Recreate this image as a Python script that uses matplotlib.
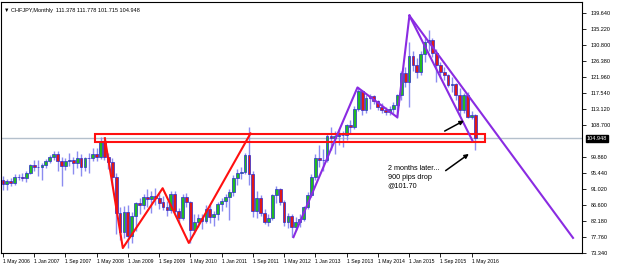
import matplotlib
matplotlib.use("Agg")
import matplotlib.pyplot as plt
import matplotlib.transforms as mtransforms
from matplotlib.patches import Rectangle
import numpy as np

plt.rcParams['font.family'] = ['Liberation Sans', 'DejaVu Sans']

# CHFJPY monthly candles, May 2006 .. Jun 2016 (month index 0 = May 2006)
opens = [93.5, 92.3, 93.2, 92.6, 94.2, 94.4, 93.9, 95.4,
         97.6, 97.0, 97.1, 97.5, 98.8, 99.9, 100.5, 98.6, 97.4, 98.6, 98.9, 98.1,
         99.6, 97.0, 99.4, 99.6, 100.7, 99.8, 104.1, 99.9, 98.4, 94.2, 84.3, 79.2,
         84.7, 78.0, 83.6, 87.0, 86.6, 88.7, 88.3, 89.0, 88.6, 87.4, 86.0, 85.2,
         89.6, 85.0, 83.0, 88.7, 87.3, 79.8, 82.0, 83.0, 82.2, 85.6, 83.3, 84.2,
         86.8, 87.6, 88.9, 90.2, 94.0, 95.3, 95.7, 100.3, 95.0, 84.8, 88.6, 84.3,
         81.9, 83.0, 89.2, 91.0, 87.3, 81.9, 83.5, 80.4, 82.0, 82.8, 86.0, 89.4,
         94.4, 99.6, 99.0, 98.9, 105.5, 105.0, 105.5, 106.0, 105.8, 108.6, 108.2, 113.0,
         118.0, 112.8, 116.0, 116.5, 115.2, 113.5, 112.7, 112.2, 113.0, 114.2, 116.8, 123.0,
         120.4, 127.8, 125.1, 123.3, 128.2, 131.4, 132.0, 128.4, 125.2, 123.2, 122.4, 119.6,
         119.9, 116.9, 112.8, 116.8, 110.9, 111.378]
highs = [94.5, 93.8, 94.1, 95.0, 95.2, 95.3, 96.0, 98.0,
         98.9, 99.0, 98.2, 99.2, 100.4, 101.4, 101.5, 99.7, 99.6, 101.0, 99.9, 101.5,
         100.5, 99.8, 101.0, 102.2, 102.4, 105.2, 104.8, 101.0, 99.4, 95.4, 86.0, 86.2,
         86.5, 84.6, 87.5, 88.5, 89.5, 91.0, 90.5, 91.3, 90.2, 89.0, 87.8, 90.3,
         90.4, 85.8, 89.6, 89.8, 87.8, 84.0, 84.0, 84.2, 86.5, 86.5, 84.8, 87.4,
         88.5, 89.5, 91.0, 94.8, 96.5, 97.0, 101.0, 108.0, 96.0, 90.5, 89.2, 85.4,
         84.0, 89.6, 91.8, 91.3, 88.0, 84.5, 84.0, 83.2, 84.0, 86.4, 90.2, 95.0,
         100.5, 103.0, 102.0, 106.5, 108.0, 107.0, 107.5, 107.0, 109.0, 110.0, 113.8, 119.0,
         118.2, 116.8, 117.2, 117.0, 115.6, 114.7, 113.5, 114.0, 115.0, 117.3, 123.5, 124.5,
         131.4, 129.0, 127.0, 129.0, 132.5, 134.7, 132.5, 129.5, 126.0, 124.5, 122.8, 122.0,
         120.3, 118.8, 117.5, 117.7, 112.5, 111.778]
lows = [90.6, 90.8, 91.9, 92.2, 93.4, 93.2, 92.9, 95.0,
        96.0, 94.6, 93.6, 96.8, 98.2, 99.0, 96.0, 91.9, 96.1, 97.3, 95.2, 96.9,
        94.5, 96.0, 95.5, 98.6, 98.7, 99.3, 99.0, 96.5, 92.0, 78.5, 77.0, 77.5,
        74.8, 76.0, 79.5, 84.0, 85.5, 86.0, 84.5, 86.5, 85.5, 85.2, 83.5, 84.5,
        84.5, 81.5, 82.3, 86.0, 76.1, 78.5, 80.5, 80.0, 81.5, 81.5, 80.8, 82.5,
        84.8, 86.0, 82.5, 89.0, 92.0, 93.8, 95.0, 92.0, 83.2, 83.0, 83.5, 81.2,
        80.8, 82.3, 87.0, 86.5, 80.8, 80.3, 77.8, 79.6, 80.6, 82.2, 85.5, 88.8,
        93.5, 97.0, 96.0, 98.5, 101.8, 100.5, 103.0, 102.5, 104.5, 106.5, 107.5, 112.5,
        111.5, 112.0, 113.0, 114.5, 112.8, 112.0, 111.5, 111.5, 112.0, 110.7, 115.5, 119.0,
        113.5, 123.5, 121.5, 122.5, 126.0, 129.0, 127.5, 120.5, 121.5, 121.0, 119.2, 117.6,
        115.6, 111.0, 112.0, 110.5, 110.3, 101.715]
closes = [92.3, 93.2, 92.6, 94.2, 94.4, 93.9, 95.4, 97.6,
          97.0, 97.1, 97.5, 98.8, 99.9, 100.5, 98.6, 97.4, 98.6, 98.9, 98.1, 99.6,
          97.0, 99.4, 99.6, 100.7, 99.8, 104.1, 99.9, 98.4, 94.2, 84.3, 79.2, 84.7,
          78.0, 83.6, 87.0, 86.6, 88.7, 88.3, 89.0, 88.6, 87.2, 86.0, 85.2, 89.6,
          85.0, 83.0, 88.7, 87.3, 79.8, 82.0, 83.0, 82.2, 85.6, 83.3, 84.2, 86.8,
          87.6, 88.9, 90.2, 94.0, 95.3, 95.7, 100.3, 95.0, 84.8, 88.6, 84.3, 81.9,
          83.0, 89.2, 91.0, 87.3, 81.9, 83.5, 80.4, 82.0, 82.8, 86.0, 89.4, 94.4,
          99.6, 99.0, 98.9, 105.5, 105.0, 105.5, 106.0, 105.8, 108.6, 108.2, 113.0, 118.0,
          112.8, 116.0, 116.5, 115.2, 113.5, 112.7, 112.2, 113.0, 114.2, 116.8, 123.0, 120.4,
          127.8, 125.1, 123.3, 128.2, 131.4, 132.0, 128.4, 125.2, 123.2, 122.4, 119.6, 119.9,
          116.9, 112.8, 116.8, 110.9, 111.378, 104.948]

date_ticks = [0, 8, 16, 24, 32, 40, 48, 56, 64, 72, 80, 88, 96, 104, 112, 120]
date_labels = ['1 May 2006', '1 Jan 2007', '1 Sep 2007', '1 May 2008', '1 Jan 2009',
               '1 Sep 2009', '1 May 2010', '1 Jan 2011', '1 Sep 2011', '1 May 2012',
               '1 Jan 2013', '1 Sep 2013', '1 May 2014', '1 Jan 2015', '1 Sep 2015',
               '1 May 2016']
price_ticks = [139.64, 135.22, 130.80, 126.38, 121.96, 117.54, 113.12, 108.70,
               99.86, 95.44, 91.02, 86.60, 82.18, 77.76, 73.34]
last_price = 104.948

# hand drawn analysis objects (month index, price)
zone_x = [23.5, 123.5]
zone_y = [103.9, 106.1]
zigzag_x = [26.1, 30.7, 40.9, 47.6, 63.4]
zigzag_y = [105.0, 74.7, 91.2, 76.1, 106.3]
rise_x = [74.4, 90.8, 101.0, 104.1]
rise_y = [77.7, 119.0, 110.75, 138.8]
chan1_x = [104.1, 120.2]
chan1_y = [138.8, 104.4]
chan2_x = [104.1, 146.0]
chan2_y = [138.8, 77.5]

fig = plt.figure(figsize=(6.25, 2.66), dpi=100)
ax = fig.add_axes([0.0016, 0.049, 0.9296, 0.945])

x = np.arange(len(opens))
o = np.array(opens)
c = np.array(closes)
up = c >= o
ax.vlines(x, lows, highs, color='#8c8cf0', lw=1.0, zorder=2)
ax.bar(x[up], (c - o)[up], bottom=o[up], width=0.72, color='#22bb22',
       edgecolor='#2a2ad0', lw=0.5, zorder=3)
ax.bar(x[~up], (o - c)[~up], bottom=c[~up], width=0.72, color='#e01818',
       edgecolor='#2a2ad0', lw=0.5, zorder=3)

ax.axhline(last_price, color='#b4c0cc', lw=1.0, zorder=1)

ax.add_patch(Rectangle((zone_x[0], zone_y[0]), zone_x[1] - zone_x[0], zone_y[1] - zone_y[0],
                       fill=False, edgecolor='#ff1010', lw=1.5, zorder=4))
ax.plot(zigzag_x, zigzag_y, color='#ff1010', lw=1.5, zorder=5)
ax.plot(rise_x, rise_y, color='#8a2be2', lw=1.5, zorder=5)
ax.plot(chan1_x, chan1_y, color='#8a2be2', lw=1.5, zorder=5)
ax.plot(chan2_x, chan2_y, color='#8a2be2', lw=1.5, zorder=5)

arrow = dict(arrowstyle='-|>', color='black', lw=1.1, mutation_scale=6)
ax.annotate('', xy=(118.7, 110.2), xytext=(112.5, 106.6), arrowprops=arrow, zorder=6)
ax.annotate('', xy=(119.9, 101.1), xytext=(112.8, 95.6), arrowprops=arrow, zorder=6)
ax.text(98.5, 97.6, '2 months later...\n900 pips drop\n@101.70', fontsize=5.2,
        va='top', ha='left', linespacing=1.35, zorder=6)

ax.text(0.005, 0.975, '\u25bc CHFJPY,Monthly  111.378 111.778 101.715 104.948',
        transform=ax.transAxes, fontsize=4.0, va='top', ha='left')

ax.set_xlim(-0.5, 148.3)
ax.set_ylim(73.34, 142.67)

ax.set_xticks(date_ticks)
ax.set_xticklabels(date_labels, fontsize=3.7)
offset = mtransforms.ScaledTranslation(2 / 100, 0, fig.dpi_scale_trans)
for lab in ax.get_xticklabels():
    lab.set_horizontalalignment('left')
    lab.set_transform(lab.get_transform() + offset)
ax.tick_params(axis='x', length=3, width=0.6, pad=1)

ax.yaxis.tick_right()
ax.set_yticks(price_ticks)
ax.set_yticklabels(['%.3f' % p for p in price_ticks], fontsize=4.0)
ax.tick_params(axis='y', length=3, width=0.6, pad=3)

# current price box on the right axis
shift = mtransforms.ScaledTranslation(5 / 100, 0, fig.dpi_scale_trans)
ax.text(1.0, last_price, '%.3f' % last_price,
        transform=ax.get_yaxis_transform() + shift,
        fontsize=4.0, color='white', va='center', ha='left',
        bbox=dict(boxstyle='square,pad=0.15', fc='black', ec='black'))

for s in ax.spines.values():
    s.set_linewidth(0.8)

fig.savefig('out.png', dpi=100)
